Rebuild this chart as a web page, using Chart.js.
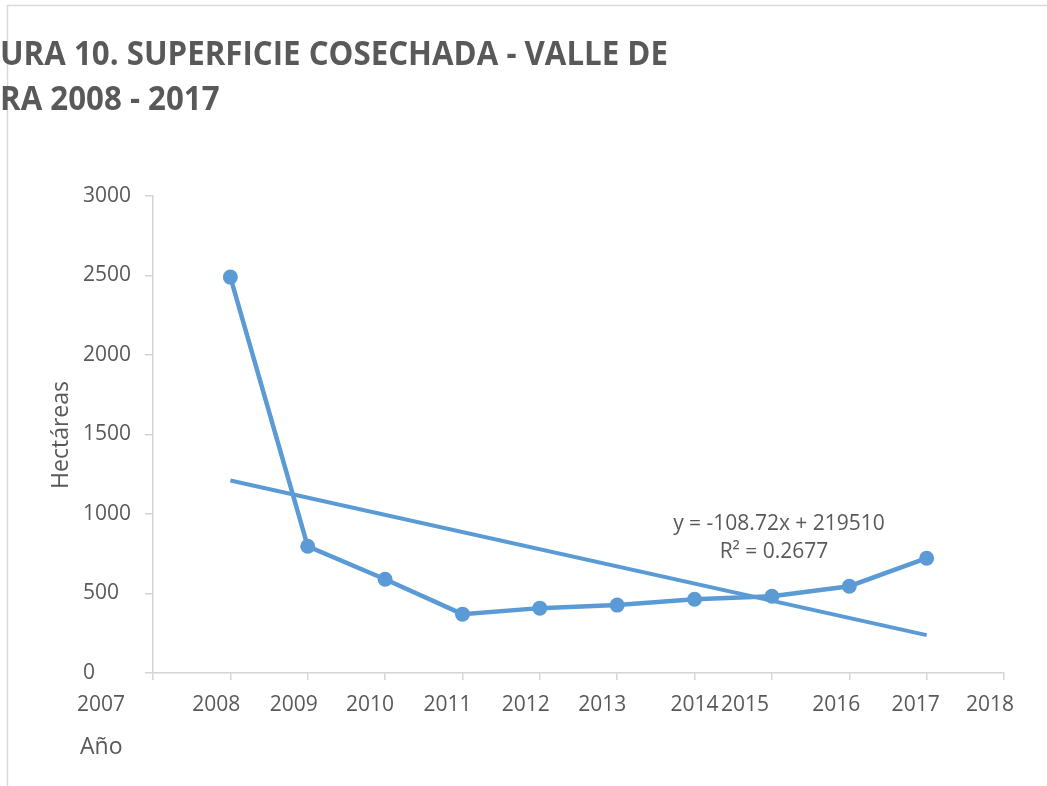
<!DOCTYPE html>
<html>
<head>
<meta charset="utf-8">
<script src="https://cdn.jsdelivr.net/npm/chart.js@4.4.0/dist/chart.umd.min.js"></script>
<style>
    html, body { margin: 0; padding: 0; background: #fff; }
    #contenedor { position: relative; width: 1047px; height: 786px; }
</style>
</head>
<body>
<div id="contenedor">
    <canvas id="grafica1" width="1047" height="786"></canvas>
</div>
<script>
// Datos
const anios = [2008, 2009, 2010, 2011, 2012, 2013, 2014, 2015, 2016, 2017];
const hectareas = [2490, 797, 590, 370, 408, 427, 464, 483, 546, 722];

// Linea de tendencia (extremos)
const aniosTendencia = [2008, 2017];
const valoresTendencia = [1211, 238];

const ticksAnio = [2007, 2008, 2009, 2010, 2011, 2012, 2013, 2014, 2015, 2016, 2017, 2018];
const ticksHectareas = [0, 500, 1000, 1500, 2000, 2500, 3000];

const tituloLineas = ['URA 10. SUPERFICIE COSECHADA - VALLE DE', 'RA 2008 - 2017'];
const ecuacionLineas = ['y = -108.72x + 219510', 'R\u00B2 = 0.2677'];

const azul = '#5B9BD5';
const gris = '#595959';
const grisEje = '#d4d4d4';
const fuente = "'Open Sans', sans-serif";

// desplazamiento de cada etiqueta de año respecto a su marca (como en el original)
const despEtiquetas = [-52, -14, -14, -15, -15, -14, -15, 0, -27, -13, -11, -14];

const textosPlugin = {
    id: 'textos',
    afterDraw(chart) {
        const ctx = chart.ctx;
        const x = chart.scales.x;
        ctx.save();

        // marco del area del grafico
        ctx.strokeStyle = '#d9d9d9';
        ctx.lineWidth = 1.5;
        ctx.beginPath();
        ctx.moveTo(7.5, 786);
        ctx.lineTo(7.5, 5.5);
        ctx.lineTo(1047, 5.5);
        ctx.stroke();

        // titulo (recortado a la izquierda como en la imagen)
        ctx.fillStyle = gris;
        ctx.font = 'bold 34px ' + fuente;
        ctx.textAlign = 'left';
        ctx.textBaseline = 'alphabetic';
        const escala = 668 / ctx.measureText(tituloLineas[0]).width;
        ctx.save();
        ctx.scale(escala, 1);
        ctx.fillText(tituloLineas[0], 0, 65);
        ctx.fillText(tituloLineas[1], 0, 110);
        ctx.restore();

        // etiquetas del eje x
        ctx.font = '21px ' + fuente;
        ctx.textAlign = 'center';
        ticksAnio.forEach((a, i) => {
            ctx.fillText(String(a), x.getPixelForValue(a) + despEtiquetas[i], 711);
        });

        // titulos de ejes
        ctx.font = '23px ' + fuente;
        ctx.textAlign = 'left';
        ctx.fillText('Año', 80, 754);
        ctx.save();
        ctx.translate(68, 435);
        ctx.rotate(-Math.PI / 2);
        ctx.textAlign = 'center';
        ctx.fillText('Hectáreas', 0, 0);
        ctx.restore();

        // ecuacion de la tendencia
        ctx.font = '21px ' + fuente;
        ctx.textAlign = 'center';
        ctx.fillText(ecuacionLineas[0], 779, 530);
        ctx.fillText(ecuacionLineas[1], 774, 558);

        ctx.restore();
    }
};

const ctx = document.getElementById('grafica1').getContext('2d');
window.miGrafica = new Chart(ctx, {
    type: 'scatter',
    data: {
        datasets: [{
            label: 'Superficie cosechada',
            data: anios.map((a, i) => ({ x: a, y: hectareas[i] })),
            showLine: true,
            borderColor: azul,
            backgroundColor: azul,
            borderWidth: 4.5,
            pointRadius: 7.5,
            pointBorderWidth: 0,
            order: 1
        }, {
            label: 'Lineal',
            data: aniosTendencia.map((a, i) => ({ x: a, y: valoresTendencia[i] })),
            showLine: true,
            borderColor: azul,
            borderWidth: 4,
            pointRadius: 0,
            order: 2
        }]
    },
    options: {
        responsive: false,
        animation: false,
        devicePixelRatio: 1,
        layout: { padding: { left: 83, right: 43, top: 196, bottom: 0 } },
        plugins: {
            legend: { display: false },
            tooltip: { enabled: false }
        },
        scales: {
            x: {
                type: 'linear',
                min: ticksAnio[0],
                max: ticksAnio[ticksAnio.length - 1],
                afterBuildTicks: s => { s.ticks = ticksAnio.map(v => ({ value: v })); },
                afterFit: s => { s.height = 113; },
                ticks: { display: false },
                grid: { drawOnChartArea: false, drawTicks: true, tickLength: 7, color: grisEje, lineWidth: 1.5 },
                border: { color: grisEje, width: 1.5 }
            },
            y: {
                min: ticksHectareas[0],
                max: ticksHectareas[ticksHectareas.length - 1],
                afterBuildTicks: s => { s.ticks = ticksHectareas.map(v => ({ value: v })); },
                afterFit: s => { s.width = 70; },
                ticks: {
                    crossAlign: 'far',
                    color: gris,
                    font: { family: fuente, size: 21 },
                    callback: v => String(v)
                },
                grid: { drawOnChartArea: false, drawTicks: true, tickLength: 8, color: grisEje, lineWidth: 1.5 },
                border: { color: grisEje, width: 1.5 }
            }
        }
    },
    plugins: [textosPlugin]
});
</script>
</body>
</html>
